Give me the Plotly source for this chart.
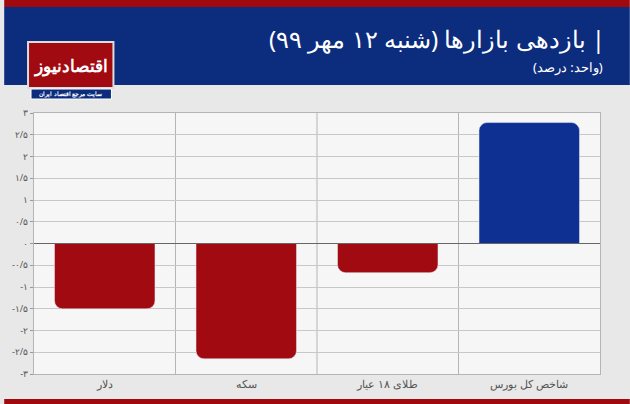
import plotly.graph_objects as go

categories = ["دلار", "سکه", "طلای ۱۸ عیار", "شاخص کل بورس"]
values = [-1.5, -2.65, -0.67, 2.78]
colors = ["#a10a10", "#a10a10", "#a10a10", "#0d3092"]
tick_vals = [3, 2.5, 2, 1.5, 1, 0.5, 0, -0.5, -1, -1.5, -2, -2.5, -3]
tick_text = ["۳", "۲/۵", "۲", "۱/۵", "۱", "۰/۵", "۰", "-۰/۵", "-۱", "-۱/۵", "-۲", "-۲/۵", "-۳"]

W, H = 630, 404
L, R, T, B = 30, 30, 113, 30
ph = H - T - B
pw = W - L - R
def py(p):  # pixel y -> paper
    return (H - B - p) / ph
def px(p):
    return (p - L) / pw

fig = go.Figure(go.Bar(x=categories, y=values, marker_color=colors, width=0.71,
                       marker_cornerradius=8))

shapes = [
    dict(type="rect", xref="paper", yref="paper", x0=px(0), x1=px(W), y0=py(85), y1=py(7),
         fillcolor="#0c2c7e", line_width=0),
    dict(type="rect", xref="paper", yref="paper", x0=px(0), x1=px(W), y0=py(7), y1=py(0),
         fillcolor="#a00a0e", line_width=0),
    dict(type="rect", xref="paper", yref="paper", x0=px(0), x1=px(W), y0=py(404), y1=py(399),
         fillcolor="#a00a0e", line_width=0),
    dict(type="rect", xref="paper", yref="paper", x0=px(24), x1=px(110), y0=py(88), y1=py(42),
         fillcolor="#a10a10", line=dict(color="#dddddd", width=2)),
    dict(type="rect", xref="paper", yref="paper", x0=px(27), x1=px(108), y0=py(99), y1=py(89),
         fillcolor="#0c2c7e", line=dict(color="#ffffff", width=1)),
]
for xv in [0.5, 1.5, 2.5]:
    shapes.append(dict(type="line", xref="x", yref="paper", x0=xv, x1=xv, y0=0, y1=1,
                       line=dict(color="#b5b5b5", width=1), layer="below"))
shapes.append(dict(type="line", xref="paper", yref="y", x0=0, x1=1, y0=0, y1=0,
                   line=dict(color="#666666", width=1)))

annotations = [
    dict(text="\u200f| بازدهی بازارها (شنبه ۱۲ مهر ۹۹)\u200f", xref="paper", yref="paper",
         x=px(607), y=py(38), xanchor="right", yanchor="middle", showarrow=False,
         font=dict(family="Noto Sans", size=24, color="white")),
    dict(text="\u200f(واحد: درصد)\u200f", xref="paper", yref="paper",
         x=px(605), y=py(67), xanchor="right", yanchor="middle", showarrow=False,
         font=dict(family="Noto Sans", size=13, color="white")),
    dict(text="<b>اقتصادنیوز</b>", xref="paper", yref="paper",
         x=px(67), y=py(65), xanchor="center", yanchor="middle", showarrow=False,
         font=dict(family="Noto Sans", size=17, color="white")),
    dict(text="<b>سایت مرجع اقتصاد ایران</b>", xref="paper", yref="paper",
         x=px(67), y=py(94), xanchor="center", yanchor="middle", showarrow=False,
         font=dict(family="Noto Sans", size=6, color="white")),
]

fig.update_layout(
    width=W, height=H, margin=dict(l=L, r=R, t=T, b=B),
    paper_bgcolor="#e8e8e8", plot_bgcolor="#f6f6f6",
    showlegend=False, shapes=shapes, annotations=annotations,
)
fig.update_xaxes(showgrid=False, showline=True, linecolor="#b5b5b5", mirror=True,
                 tickfont=dict(family="Noto Sans", size=11, color="#555555"), ticks="")
fig.update_yaxes(range=[-3, 3], tickvals=tick_vals, ticktext=tick_text, showgrid=True,
                 gridcolor="#c8c8c8", zeroline=False, showline=True, linecolor="#b5b5b5",
                 mirror=True, ticks="outside", ticklen=3, tickcolor="#999999",
                 tickfont=dict(family="Noto Sans", size=9, color="#555555"))
fig.write_html("out.html", config={"displayModeBar": False},
               post_script="document.body.style.margin='0';document.body.style.overflow='hidden';")
